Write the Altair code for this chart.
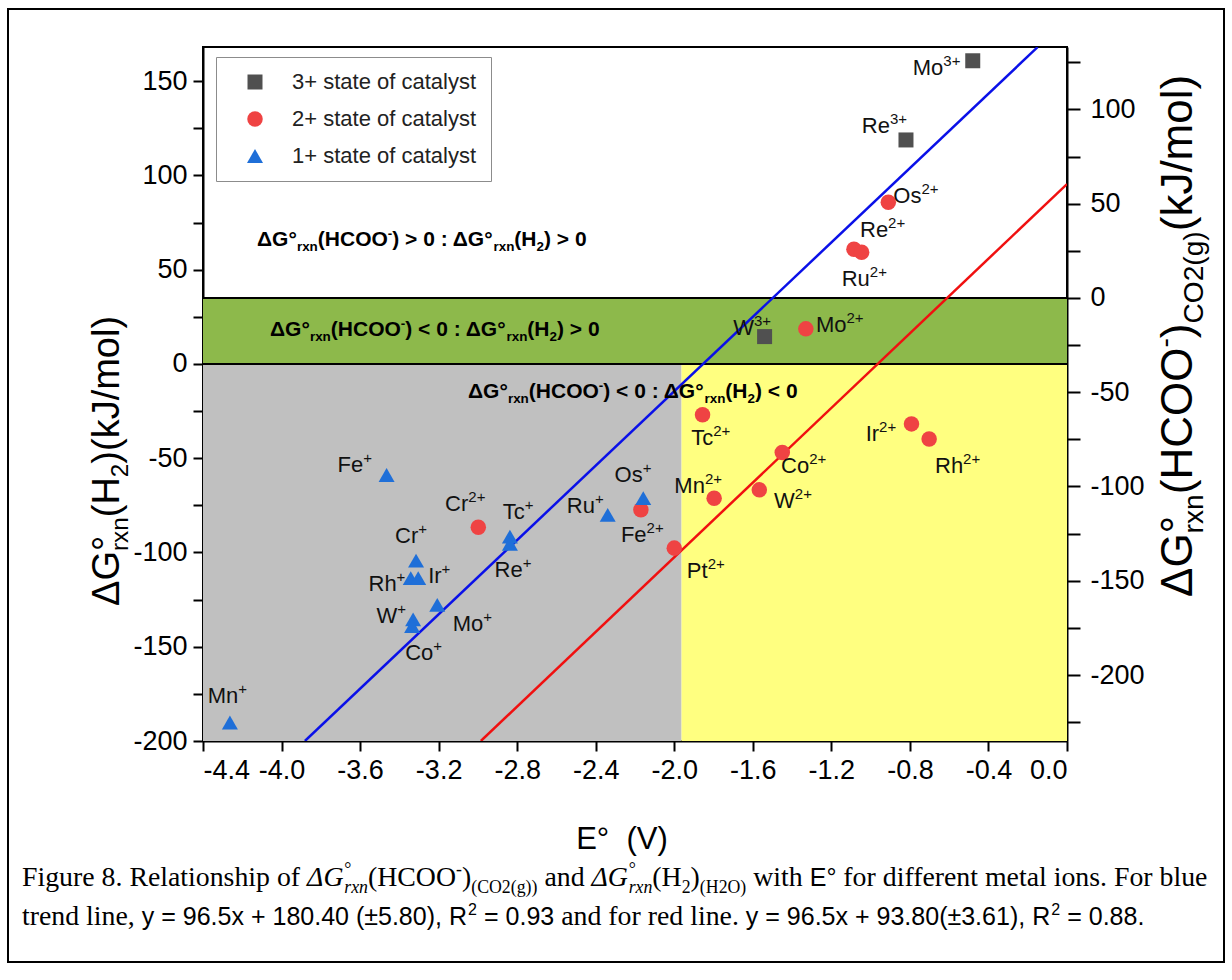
import math
import altair as alt
import pandas as pd

SANS = "Liberation Sans, Arial, Helvetica, sans-serif"
SERIF = "Liberation Serif, Times New Roman, serif"

# ---------------- data ----------------
# 3+ state (squares)
S3_EL = ["Mo", "Re", "W"]
S3_E = [-0.48, -0.82, -1.54]
S3_G = [160.8, 118.8, 14.5]
S3_LE = [-0.63, -0.902, -1.594]
S3_LG = [153.2, 122.6, 15.4]

# 2+ state (circles)
S2_EL = ["Os", "Re", "Ru", "Mo", "Tc", "Co", "W", "Mn", "Ir", "Rh", "Cr", "Fe", "Pt"]
S2_E = [-0.91, -1.085, -1.046, -1.33, -1.856, -1.45, -1.567, -1.797, -0.792, -0.702, -2.998, -2.17, -2.0]
S2_G = [85.7, 60.8, 59.2, 18.6, -27.0, -47.0, -66.8, -71.2, -31.8, -39.8, -86.6, -77.4, -97.7]
S2_LE = [-0.741, -0.911, -1.004, -1.123, -1.802, -1.313, -1.386, -1.844, -0.957, -0.529, -3.049, -2.141, -1.83]
S2_LG = [85.2, 67.2, 41.5, 17.1, -42.9, -57.6, -76.5, -68.6, -40.8, -57.6, -77.9, -94.7, -113.6]

# 1+ state (triangles)
S1_EL = ["Fe", "Cr", "Rh", "Ir", "W", "Co", "Mo", "Tc", "Re", "Ru", "Os", "Mn"]
S1_E = [-3.465, -3.315, -3.342, -3.304, -3.33, -3.335, -3.207, -2.837, -2.837, -2.339, -2.158, -4.263]
S1_G = [-58.9, -104.3, -113.6, -113.6, -135.5, -139.0, -127.8, -91.6, -95.4, -80.1, -71.2, -190.2]
S1_LE = [-3.584, -3.304, -3.414, -3.185, -3.411, -3.227, -2.973, -2.761, -2.772, -2.404, -2.161, -4.22]
S1_LG = [-57.4, -95.1, -120.2, -116.3, -137.2, -157.0, -141.6, -82.2, -112.8, -79.2, -62.4, -179.9]

STATES = ["3+ state of catalyst", "2+ state of catalyst", "1+ state of catalyst"]
CHARGES = ["3+", "2+", "+"]
STATE_COLORS = ["#505050", "#EF4343", "#1F6FD8"]
STATE_SHAPES = ["square", "circle", "triangle-up"]
STATE_SIZES = [225, 256, 420]

# trend lines (end points)
BLUE_E = [-3.881, -0.15]
BLUE_G = [-200.0, 168.0]
RED_E = [-2.985, 0.0]
RED_G = [-200.0, 95.4]

# regions
E_MIN, E_MAX = -4.4, 0.0
G_MIN, G_MAX = -200.0, 168.1
E_SPLIT = -1.963
G_BAND = 35.0
OFFSET = 35.0  # right axis = left axis - OFFSET

X_TICKS = [-4.4, -4.0, -3.6, -3.2, -2.8, -2.4, -2.0, -1.6, -1.2, -0.8, -0.4, 0.0]
YL_TICKS = [-200, -175, -150, -125, -100, -75, -50, -25, 0, 25, 50, 75, 100, 125, 150]
YR_TICKS = [-225, -200, -175, -150, -125, -100, -75, -50, -25, 0, 25, 50, 75, 100, 125]

GRAY, YELLOW, GREEN = "#C0C0C0", "#FFFF80", "#8DB94B"

# ---------------- layout ----------------
PX0, PY0 = 203, 47
PW, PH = 864, 694

# ---------------- font metrics (Arial / Times compatible) ----------------
def table(groups, default):
    t = {}
    for chars, w in groups:
        for c in chars:
            t[c] = w
    t["_d"] = default
    return t

ARIAL = table([
    (" ,./:;!ftI", 278), ("ijl", 222), ("r()-", 333), ("²³", 333), ("Jckvsxyz", 500),
    ("Labdeghnopqu0123456789", 556), ("+<>=±", 584), ("FTZ", 611), ("ABEKPSVXY", 667),
    ("Δ", 668), ("CDHNRUw", 722), ("GOQ", 778), ("Mm", 833), ("W", 944), ("°", 400)], 556)
ARIAL_B = table([
    (" ,.I", 278), ("ijl", 278), ("()-:ft", 333), ("r", 389), ("z", 500),
    ("acekosvxy0123456789", 556), ("+<>=", 584), ("bdghnopqu", 611), ("FLTZ", 611),
    ("EPSVXY", 667), ("ABCDHKNRU", 722), ("Δ", 722), ("GOQw", 778), ("M", 833), ("m", 889),
    ("W", 944), ("°", 400)], 556)
TIMES = table([
    (" ,.", 250), ("²", 300), ("()-fr", 333), ("IF", 333), ("s", 389), ("J", 389), ("°", 400),
    ("acez", 444), ("bdghknopquvxy0123456789", 500), ("ijlt:/", 278), ("FPS", 556),
    ("+=±", 564), ("ETZL", 611), ("Δ", 612), ("BCR", 667), ("ADGHKNOQUVXY", 722), ("w", 722),
    ("m", 778), ("M", 889), ("W", 944)], 500)
TIMES_I = dict(TIMES)
TIMES_I.update({"r": 389, "x": 444, "n": 500, "G": 722, "Δ": 612})

FONTS = {
    "sans": (SANS, "normal", "normal", ARIAL),
    "sansb": (SANS, "bold", "normal", ARIAL_B),
    "serif": (SERIF, "normal", "normal", TIMES),
    "serifi": (SERIF, "normal", "italic", TIMES_I),
}


def text_width(s, key, size):
    t = FONTS[key][3]
    return sum(t.get(c, t["_d"]) for c in s) * size / 1000.0


def px_to_e(x):
    return E_MIN + x / PW * (E_MAX - E_MIN)


def px_to_g(y):
    return G_MAX - y / PH * (G_MAX - G_MIN)


def layout(segs, x0, y0, size, angle=0, subf=0.64):
    th = math.radians(angle)
    ax, ay = math.cos(th), math.sin(th)
    ux, uy = math.sin(th), -math.cos(th)
    pos = 0.0
    rows = []
    for seg in segs:
        text, kind, key = seg[0], seg[1], seg[2]
        mult = seg[3] if len(seg) > 3 else 1.0
        base = size * mult
        if kind == "sub":
            s, shift, adv = base * subf, -base * 0.24, True
        elif kind == "sup":
            s, shift, adv = base * subf, base * 0.40, True
        elif kind == "supna":
            s, shift, adv = base * subf, base * 0.40, False
        elif kind == "na":
            s, shift, adv = base, 0.0, False
        else:
            s, shift, adv = base, 0.0, True
        lead = len(text) - len(text.lstrip(" "))
        pos += text_width(text[:lead], key, s)
        body = text.lstrip(" ")
        px = x0 + ax * pos + ux * shift - PX0
        py = y0 + ay * pos + uy * shift - PY0
        rows.append(dict(e=px_to_e(px), g=px_to_g(py), text=body, key=key,
                         size=round(s, 2), angle=angle))
        if adv:
            pos += text_width(body, key, s)
    return rows, pos


def region_segs(op1, op2):
    return [("ΔG°", "n", "sansb"), ("rxn", "sub", "sansb"), ("(HCOO", "n", "sansb"),
            ("-", "sup", "sansb"), (") " + op1 + " 0 : ΔG°", "n", "sansb"),
            ("rxn", "sub", "sansb"), ("(H", "n", "sansb"), ("2", "sub", "sansb"),
            (") " + op2 + " 0", "n", "sansb")]


rows = []
rows += layout(region_segs(">", ">"), 257, 246, 21)[0]
rows += layout(region_segs("<", ">"), 270, 336, 21)[0]
rows += layout(region_segs("<", "<"), 468, 398, 21)[0]

LEFT_TITLE = [("ΔG", "n", "sans"), ("°", "na", "sans"), ("rxn", "sub", "sans"),
              ("(H", "n", "sans"), ("2", "sub", "sans"), (")(kJ/mol)", "n", "sans")]
RIGHT_TITLE = [("ΔG", "n", "sans"), ("°", "na", "sans"), ("rxn", "sub", "sans"),
               ("(HCOO", "n", "sans"), ("-", "sup", "sans"), (")", "n", "sans"),
               ("CO2(g)", "sub", "sans"), ("(kJ/mol)", "n", "sans")]
rows += layout(LEFT_TITLE, 119, 606, 38, angle=270)[0]
rows += layout(RIGHT_TITLE, 1192, 597, 44, angle=270)[0]

CAP1 = [("Figure 8. Relationship of ", "n", "serif"), ("ΔG", "n", "serifi"), ("°", "supna", "serif"),
        ("rxn", "sub", "serifi"), ("(HCOO", "n", "serif"), ("-", "sup", "serif"), (")", "n", "serif"),
        ("(CO2(g))", "sub", "serif"), (" and ", "n", "serif"), ("ΔG", "n", "serifi"),
        ("°", "supna", "serif"), ("rxn", "sub", "serifi"), ("(H", "n", "serif"), ("2", "sub", "serif"),
        (")", "n", "serif"), ("(H2O)", "sub", "serif"), (" with ", "n", "serif"),
        ("E°", "n", "sans", 0.9), (" for different metal ions. For blue", "n", "serif")]
CAP2 = [("trend line, ", "n", "serif"), ("y = 96.5x + 180.40 (±5.80), R", "n", "sans", 0.9),
        ("2", "sup", "sans", 0.9), (" = 0.93", "n", "sans", 0.9), (" and for red line. ", "n", "serif"),
        ("y = 96.5x + 93.80(±3.61), R", "n", "sans", 0.9), ("2", "sup", "sans", 0.9),
        (" = 0.88.", "n", "sans", 0.9)]
unit = layout(CAP1, 0, 0, 1.0)[1]
cap_size = 1186.0 / unit
rows += layout(CAP1, 22, 886, cap_size)[0]
rows += layout(CAP2, 22, 925, cap_size)[0]

seg_df = pd.DataFrame(rows)

# ---------------- scales & axes ----------------
xs = alt.Scale(domain=[E_MIN, E_MAX], nice=False, zero=False)
ys = alt.Scale(domain=[G_MIN, G_MAX], nice=False, zero=False)
ysr = alt.Scale(domain=[G_MIN - OFFSET, G_MAX - OFFSET], nice=False, zero=False)

ax_common = dict(title=None, grid=False, domainColor="black", domainWidth=2, tickColor="black",
                 tickWidth=2, labelFont=SANS, labelFontSize=27, labelColor="black",
                 labelOverlap=False)
MINUS = "replace(format(datum.value, '{f}'), '\u2212', '-')"
xaxis = alt.Axis(values=X_TICKS, tickSize=10, labelPadding=6,
                 labelExpr=MINUS.format(f=".1f"), **ax_common)
ylaxis = alt.Axis(values=YL_TICKS, tickSize=10, labelPadding=6, orient="left",
                  labelExpr="datum.value % 50 == 0 ? " + MINUS.format(f="d") + " : ''", **ax_common)
yraxis = alt.Axis(values=YR_TICKS, tickSize=13, labelPadding=10, orient="right",
                  labelExpr="datum.value % 50 == 0 ? " + MINUS.format(f="d") + " : ''", **ax_common)


def X(field):
    return alt.X(field, scale=xs, axis=xaxis)


def Y(field):
    return alt.Y(field, scale=ys, axis=ylaxis)


def text_layers(df):
    out = []
    for (key, size, angle), g in df.groupby(["key", "size", "angle"]):
        fam, wt, st, _ = FONTS[key]
        out.append(
            alt.Chart(g.reset_index(drop=True)).mark_text(
                font=fam, fontWeight=wt, fontStyle=st, fontSize=float(size), angle=int(angle),
                align="left", baseline="alphabetic", color="black"
            ).encode(x=X("e:Q"), y=Y("g:Q"), text="text:N")
        )
    return out


# ---------------- tables for marks ----------------
pts = []
for st, ch, els, es, gs, les, lgs in [
    (STATES[0], CHARGES[0], S3_EL, S3_E, S3_G, S3_LE, S3_LG),
    (STATES[1], CHARGES[1], S2_EL, S2_E, S2_G, S2_LE, S2_LG),
    (STATES[2], CHARGES[2], S1_EL, S1_E, S1_G, S1_LE, S1_LG),
]:
    for el, e, g, le, lg in zip(els, es, gs, les, lgs):
        pts.append(dict(state=st, ch=ch, el=el, e=e, g=g, le=le, lg=lg))
pts = pd.DataFrame(pts)

bg_df = pd.DataFrame({
    "x1": [E_MIN, E_SPLIT, E_MIN], "x2": [E_SPLIT, E_MAX, E_MAX],
    "y1": [G_MIN, G_MIN, 0.0], "y2": [0.0, 0.0, G_BAND],
    "col": [GRAY, YELLOW, GREEN]})
rule_df = pd.DataFrame({"g": [0.0, G_BAND]})
line_df = pd.DataFrame({
    "series": ["blue", "blue", "red", "red"],
    "e": BLUE_E + RED_E, "g": BLUE_G + RED_G,
    "col": ["#0A10E8", "#0A10E8", "#F01010", "#F01010"]})

one = pd.DataFrame({"a": [0]})
border = alt.Chart(one).mark_rect(fillOpacity=0, stroke="black", strokeWidth=2).encode(
    x=alt.value(8 - PX0), x2=alt.value(1224 - PX0), y=alt.value(9 - PY0), y2=alt.value(962 - PY0))

bg = alt.Chart(bg_df).mark_rect().encode(
    x=X("x1:Q"), x2="x2:Q", y=Y("y1:Q"), y2="y2:Q", fill=alt.Fill("col:N", scale=None))

rules = alt.Chart(rule_df).mark_rule(color="black", strokeWidth=2).encode(
    y=Y("g:Q"), x=alt.value(0), x2=alt.value(PW))

lines = alt.Chart(line_df).mark_line(strokeWidth=2.5, clip=True).encode(
    x=X("e:Q"), y=Y("g:Q"), color=alt.Color("col:N", scale=None), detail="series:N")

leg = alt.Legend(title=None, orient="none", legendX=13, legendY=10, fillColor="white",
                 strokeColor="#8C8C8C", padding=14, symbolOffset=14, labelOffset=26,
                 rowPadding=15, labelFontSize=22, labelFont=SANS, labelColor="#222222",
                 labelLimit=0, symbolStrokeWidth=0)
points = alt.Chart(pts).mark_point(filled=True, opacity=1).encode(
    x=X("e:Q"), y=Y("g:Q"),
    shape=alt.Shape("state:N", scale=alt.Scale(domain=STATES, range=STATE_SHAPES), legend=leg),
    color=alt.Color("state:N", scale=alt.Scale(domain=STATES, range=STATE_COLORS), legend=leg),
    size=alt.Size("state:N", scale=alt.Scale(domain=STATES, range=STATE_SIZES), legend=leg))

el_text = alt.Chart(pts).mark_text(align="right", baseline="alphabetic", font=SANS, fontSize=22,
                                   color="#111111").encode(x=X("le:Q"), y=Y("lg:Q"), text="el:N")
ch_text = alt.Chart(pts).mark_text(align="left", baseline="alphabetic", font=SANS, fontSize=15,
                                   dy=-9, color="#111111").encode(x=X("le:Q"), y=Y("lg:Q"), text="ch:N")

xtitle = alt.Chart(one).mark_text(align="center", baseline="alphabetic", font=SANS, fontSize=31,
                                  color="black", text="E°\u00a0 (V)").encode(
    x=alt.value(622 - PX0), y=alt.value(849 - PY0))

inner = alt.layer(border, bg, rules, lines, points, el_text, ch_text, xtitle, *text_layers(seg_df))

right = alt.Chart(pts).transform_calculate(gr="datum.g - %f" % OFFSET).mark_point(opacity=0).encode(
    x=X("e:Q"), y=alt.Y("gr:Q", scale=ysr, axis=yraxis))

chart = alt.layer(inner, right).resolve_scale(y="independent").properties(
    width=PW, height=PH,
    padding={"left": PX0, "top": PY0, "right": 1232 - PX0 - PW, "bottom": 980 - PY0 - PH},
    autosize=alt.AutoSizeParams(type="none"), background="white"
).configure_view(stroke="black", strokeWidth=2)

chart.save("out.html", embed_options={"renderer": "svg", "actions": False})
